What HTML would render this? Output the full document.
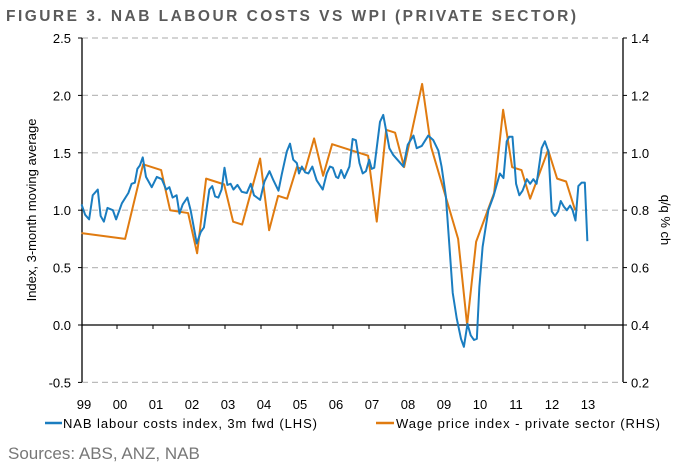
<!DOCTYPE html>
<html><head><meta charset="utf-8"><style>
body{margin:0;background:#fff;width:680px;height:468px;overflow:hidden}
svg text{font-family:"Liberation Sans","DejaVu Sans",sans-serif}
</style></head><body>
<svg width="680" height="468" viewBox="0 0 680 468">
<text x="6" y="21" font-size="15.5" font-weight="bold" fill="#5a5a5a" textLength="570">FIGURE 3. NAB LABOUR COSTS VS WPI (PRIVATE SECTOR)</text>
<g id="grid"></g>
<g id="axes"></g>
<g id="series"></g>
<text transform="translate(36,210) rotate(-90)" text-anchor="middle" font-size="13" fill="#000">Index, 3-month moving average</text>
<text transform="translate(661,220) rotate(90)" text-anchor="middle" font-size="13" fill="#000">q/q % ch</text>
<g>
<line x1="45" y1="423" x2="62" y2="423" stroke="#1a7dc0" stroke-width="2.5"/>
<text x="63" y="428" font-size="13" textLength="254">NAB labour costs index, 3m fwd (LHS)</text>
<line x1="376" y1="423" x2="394" y2="423" stroke="#e07b10" stroke-width="2.5"/>
<text x="396" y="428" font-size="13" textLength="264">Wage price index - private sector (RHS)</text>
</g>
<text x="8" y="459" font-size="17" fill="#777">Sources: ABS, ANZ, NAB</text>
</svg>
<script>
const leftTicks=[-0.5,0,0.5,1.0,1.5,2.0,2.5];
const rightTicks=[0.2,0.4,0.6,0.8,1.0,1.2,1.4];
const yearLabels=["99","00","01","02","03","04","05","06","07","08","09","10","11","12","13"];
const nabDates=[-0.04,0.06,0.17,0.27,0.41,0.49,0.58,0.68,0.83,0.92,1.08,1.26,1.35,1.44,1.51,1.58,1.66,1.75,1.91,2.05,2.19,2.31,2.40,2.49,2.60,2.68,2.77,2.90,2.99,3.16,3.27,3.36,3.51,3.59,3.67,3.76,3.85,3.93,4.01,4.10,4.18,4.29,4.41,4.55,4.66,4.75,4.92,5.04,5.18,5.29,5.43,5.52,5.66,5.75,5.84,5.94,6.00,6.08,6.17,6.26,6.37,6.49,6.66,6.77,6.86,6.94,7.03,7.09,7.17,7.26,7.40,7.49,7.58,7.68,7.77,7.86,7.95,8.02,8.09,8.25,8.34,8.51,8.62,8.76,8.90,9.02,9.18,9.27,9.41,9.59,9.73,9.87,9.96,10.08,10.18,10.27,10.38,10.50,10.58,10.68,10.77,10.86,10.94,11.01,11.10,11.26,11.40,11.49,11.58,11.68,11.77,11.84,11.93,12.03,12.12,12.21,12.33,12.42,12.51,12.60,12.74,12.83,12.93,13.02,13.11,13.20,13.27,13.36,13.44,13.53,13.60,13.68,13.76,13.85,13.94,14.01];
const nabValues=[1.05,0.96,0.92,1.13,1.18,0.95,0.90,1.02,1.00,0.92,1.06,1.15,1.23,1.24,1.36,1.39,1.46,1.29,1.20,1.29,1.27,1.18,1.20,1.11,1.13,0.97,1.05,1.11,1.00,0.71,0.81,0.85,1.18,1.21,1.12,1.11,1.18,1.37,1.22,1.23,1.18,1.22,1.16,1.15,1.23,1.13,1.09,1.25,1.34,1.26,1.17,1.31,1.51,1.58,1.44,1.41,1.32,1.38,1.33,1.32,1.38,1.26,1.18,1.32,1.38,1.37,1.29,1.28,1.35,1.28,1.38,1.62,1.61,1.41,1.32,1.34,1.44,1.36,1.37,1.77,1.83,1.54,1.48,1.43,1.38,1.57,1.65,1.54,1.56,1.65,1.61,1.52,1.38,1.12,0.68,0.28,0.06,-0.12,-0.19,0.01,-0.09,-0.13,-0.12,0.33,0.68,1.00,1.12,1.22,1.32,1.28,1.60,1.64,1.64,1.23,1.13,1.17,1.27,1.23,1.27,1.23,1.54,1.60,1.51,0.99,0.95,0.99,1.08,1.03,1.00,1.04,1.00,0.91,1.21,1.24,1.24,0.73];
const wpiDates=[-0.04,1.17,1.67,2.17,2.42,2.92,3.17,3.42,3.92,4.17,4.42,4.92,5.17,5.42,5.67,5.94,6.17,6.42,6.67,6.92,7.42,7.92,8.16,8.42,8.67,8.92,9.42,9.67,10.42,10.67,10.92,11.42,11.67,11.92,12.18,12.42,12.92,13.17,13.42,13.67];
const wpiValues=[0.72,0.70,0.96,0.94,0.80,0.79,0.65,0.91,0.89,0.76,0.75,0.98,0.73,0.85,0.84,0.95,0.94,1.05,0.92,1.03,1.01,0.99,0.76,1.08,1.07,0.95,1.24,1.02,0.70,0.40,0.69,0.86,1.15,0.95,0.94,0.84,1.01,0.91,0.90,0.80];

const NS="http://www.w3.org/2000/svg";
const L=82,R=623,T=38,B=382;
const x=d=>83+d*36;
const yL=v=>325-v*114.8;
const yR=v=>yL((v-0.4)/0.4);
function mk(tag,attrs,parent){const e=document.createElementNS(NS,tag);for(const k in attrs)e.setAttribute(k,attrs[k]);parent.appendChild(e);return e;}
const grid=document.getElementById('grid'),axes=document.getElementById('axes'),series=document.getElementById('series');
leftTicks.forEach(v=>{
  if(v!==0){const g=mk('line',{x1:L,x2:R-1,y1:yL(v),y2:yL(v),stroke:'#bbb','stroke-width':1.2,'stroke-dasharray':'6,4'},grid);
  
  }
  const t=mk('text',{x:L-11,y:yL(v)+5,'text-anchor':'end','font-size':13},axes);t.textContent=v.toFixed(1);
  
  
  mk('line',{x1:L-4,x2:L,y1:yL(v),y2:yL(v),stroke:'#000'},axes);
});
rightTicks.forEach(v=>{
  const t=mk('text',{x:R+8,y:yR(v)+5,'font-size':13},axes);t.textContent=v.toFixed(1);
  
  
  mk('line',{x1:R,x2:R+4,y1:yR(v),y2:yR(v),stroke:'#000'},axes);
});
mk('line',{x1:L,x2:L,y1:T,y2:B,stroke:'#000','stroke-width':1.3},axes);
mk('line',{x1:R,x2:R,y1:T,y2:B,stroke:'#000','stroke-width':1.3},axes);
mk('line',{x1:L,x2:R,y1:yL(0),y2:yL(0),stroke:'#000','stroke-width':1.3},axes);
yearLabels.forEach((lab,i)=>{
  const xt=x(i)-2;
  if(i>0)mk('line',{x1:xt,x2:xt,y1:yL(0),y2:yL(0)+4,stroke:'#000'},axes);
  const t=mk('text',{x:xt+3,y:409,'text-anchor':'middle','font-size':13},axes);t.textContent=lab;
  
  
});
const wp=mk('polyline',{points:wpiDates.map((d,i)=>x(d)+','+yR(wpiValues[i])).join(' '),fill:'none',stroke:'#e07b10','stroke-width':2,'stroke-linejoin':'round'},series);


const nb=mk('polyline',{points:nabDates.map((d,i)=>x(d)+','+yL(nabValues[i])).join(' '),fill:'none',stroke:'#1a7dc0','stroke-width':2,'stroke-linejoin':'round'},series);


</script>
</body></html>
